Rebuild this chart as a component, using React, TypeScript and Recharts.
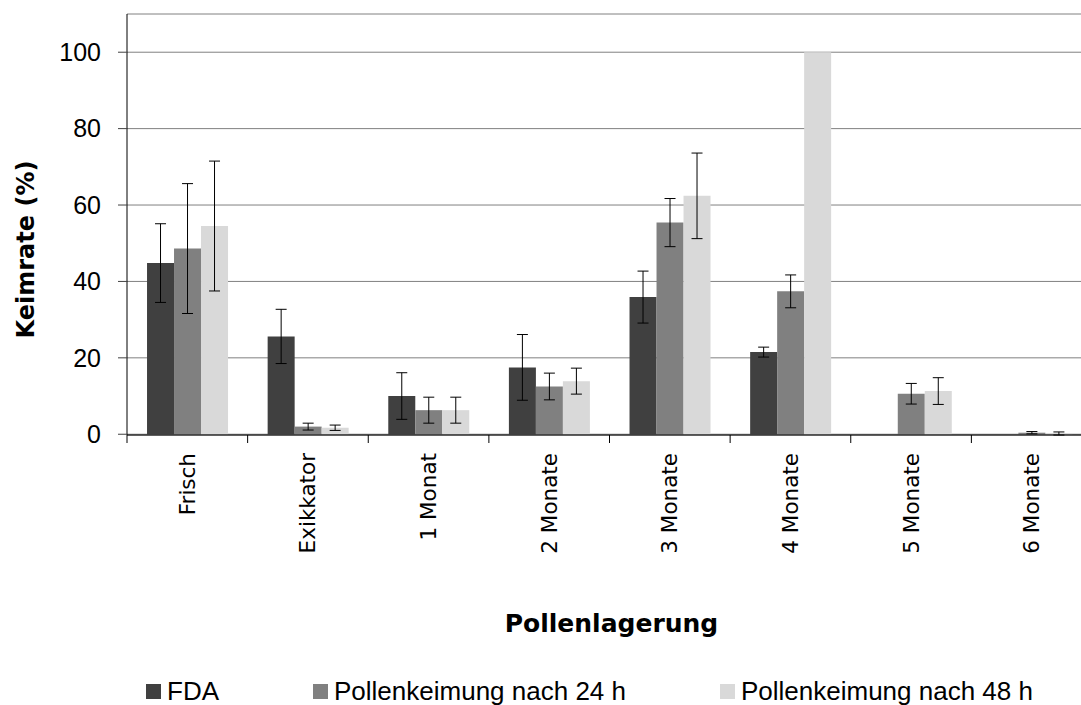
import React from 'react';
import { BarChart, Bar, XAxis, YAxis, CartesianGrid, ErrorBar, Legend } from 'recharts';

const categories = ['Frisch', 'Exikkator', '1 Monat', '2 Monate', '3 Monate', '4 Monate', '5 Monate', '6 Monate'];
const fda = [44.8, 25.6, 10.0, 17.5, 35.9, 21.5, 0, 0];
const fdaErr = [10.3, 7.1, 6.1, 8.6, 6.8, 1.3, null, null];
const p24 = [48.6, 2.0, 6.3, 12.5, 55.4, 37.4, 10.6, 0.4];
const p24Err = [17.0, 0.9, 3.4, 3.5, 6.3, 4.3, 2.7, 0.3];
const p48 = [54.5, 1.7, 6.3, 13.9, 62.4, 100, 11.3, 0.2];
const p48Err = [17.0, 0.7, 3.4, 3.4, 11.2, null, 3.5, 0.4];
const yTicks = [0, 20, 40, 60, 80, 100];
const seriesNames = ['FDA', 'Pollenkeimung nach 24 h', 'Pollenkeimung nach 48 h'];
const seriesColors = ['#404040', '#808080', '#d9d9d9'];

const data = categories.map((name, i) => ({
  name,
  pos: i + 0.5,
  fda: fda[i],
  fdaErr: fdaErr[i],
  p24: p24[i],
  p24Err: p24Err[i],
  p48: p48[i],
  p48Err: p48Err[i],
}));

const boundaryTicks: number[] = [];
for (let i = 0; i <= categories.length * 2; i++) boundaryTicks.push(i / 2);

const CatTick = (props: any) => {
  const { x, y, payload } = props;
  const v = payload.value;
  if (Number.isInteger(v)) {
    return <line x1={x} y1={y} x2={x} y2={y + 8} stroke="#000" strokeWidth={1} />;
  }
  const label = categories[Math.floor(v)];
  const ty = y + 18;
  return (
    <text
      x={x}
      y={ty}
      dy="0.35em"
      transform={`rotate(-90, ${x}, ${ty})`}
      textAnchor="end"
      fontFamily="DejaVu Sans"
      fontSize={21.5}
      fill="#000"
    >
      {label}
    </text>
  );
};

const YTitle = (props: any) => {
  const vb = props.viewBox;
  const cx = 33.5;
  const cy = vb.y + vb.height / 2 + 25;
  return (
    <text
      x={cx}
      y={cy}
      transform={`rotate(-90, ${cx}, ${cy})`}
      textAnchor="middle"
      fontFamily="DejaVu Sans"
      fontWeight="bold"
      fontSize={24}
      fill="#000"
    >
      Keimrate (%)
    </text>
  );
};

const XTitle = (props: any) => {
  const vb = props.viewBox;
  return (
    <text
      x={vb.x + vb.width / 2 + 2}
      y={vb.y + 197}
      textAnchor="middle"
      fontFamily="DejaVu Sans"
      fontWeight="bold"
      fontSize={25}
      fill="#000"
    >
      Pollenlagerung
    </text>
  );
};

const LegendContent = () => (
  <div
    style={{
      display: 'flex',
      alignItems: 'center',
      gap: 94,
      fontFamily: 'Liberation Sans',
      fontSize: 26,
      lineHeight: '26px',
      color: '#000',
      whiteSpace: 'nowrap',
    }}
  >
    {seriesNames.map((n, i) => (
      <div key={n} style={{ display: 'flex', alignItems: 'center' }}>
        <span style={{ display: 'inline-block', width: 15, height: 15, background: seriesColors[i], marginRight: 6 }} />
        <span>{n}</span>
      </div>
    ))}
  </div>
);

export default function App() {
  return (
    <div
      style={{
        position: 'absolute',
        left: 0,
        top: 0,
        width: 1081,
        height: 705,
        overflow: 'hidden',
        background: '#fff',
      }}
    >
      <BarChart
        width={1100}
        height={705}
        data={data}
        margin={{ top: 14, right: 8, bottom: 0, left: 0 }}
        barCategoryGap="16.6%"
        barGap={0}
      >
        <CartesianGrid xAxisId="cat" vertical={false} stroke="#808080" strokeWidth={1} />
        <XAxis xAxisId="num" dataKey="pos" type="number" domain={[0, 8]} allowDataOverflow
          ticks={boundaryTicks}
          interval={0}
          height={270}
          tickSize={0}
          tickMargin={0}
          tickLine={false}
          axisLine={{ stroke: '#000', strokeWidth: 1 }}
          tick={<CatTick />}
          label={<XTitle />}
        />
        <XAxis xAxisId="cat" dataKey="name" hide height={0} />
        <XAxis
          xAxisId="top"
          dataKey="pos"
          orientation="top"
          type="number"
          domain={[0, 8]}
          allowDataOverflow
          height={0}
          tick={false}
          tickLine={false}
          axisLine={{ stroke: '#000', strokeWidth: 1 }}
        />
        <YAxis
          domain={[0, 110]}
          ticks={yTicks}
          width={127}
          tickSize={9}
          tickMargin={17}
          axisLine={{ stroke: '#000', strokeWidth: 1 }}
          tickLine={{ stroke: '#404040' }}
          tick={{ fontSize: 25, fontFamily: 'Liberation Sans', fill: '#000' }}
          label={<YTitle />}
        />
        <Legend
          layout="horizontal"
          verticalAlign="middle"
          align="center"
          content={<LegendContent />}
          wrapperStyle={{ position: 'absolute', left: 146, top: 678, width: 'auto', height: 26 }}
        />
        <Bar xAxisId="cat" dataKey="fda" name={seriesNames[0]} fill={seriesColors[0]} isAnimationActive={false}>
          <ErrorBar dataKey="fdaErr" width={5.5} stroke="#000" strokeWidth={1} direction="y" />
        </Bar>
        <Bar xAxisId="cat" dataKey="p24" name={seriesNames[1]} fill={seriesColors[1]} isAnimationActive={false}>
          <ErrorBar dataKey="p24Err" width={5.5} stroke="#000" strokeWidth={1} direction="y" />
        </Bar>
        <Bar xAxisId="cat" dataKey="p48" name={seriesNames[2]} fill={seriesColors[2]} isAnimationActive={false}>
          <ErrorBar dataKey="p48Err" width={5.5} stroke="#000" strokeWidth={1} direction="y" />
        </Bar>
      </BarChart>
    </div>
  );
}
